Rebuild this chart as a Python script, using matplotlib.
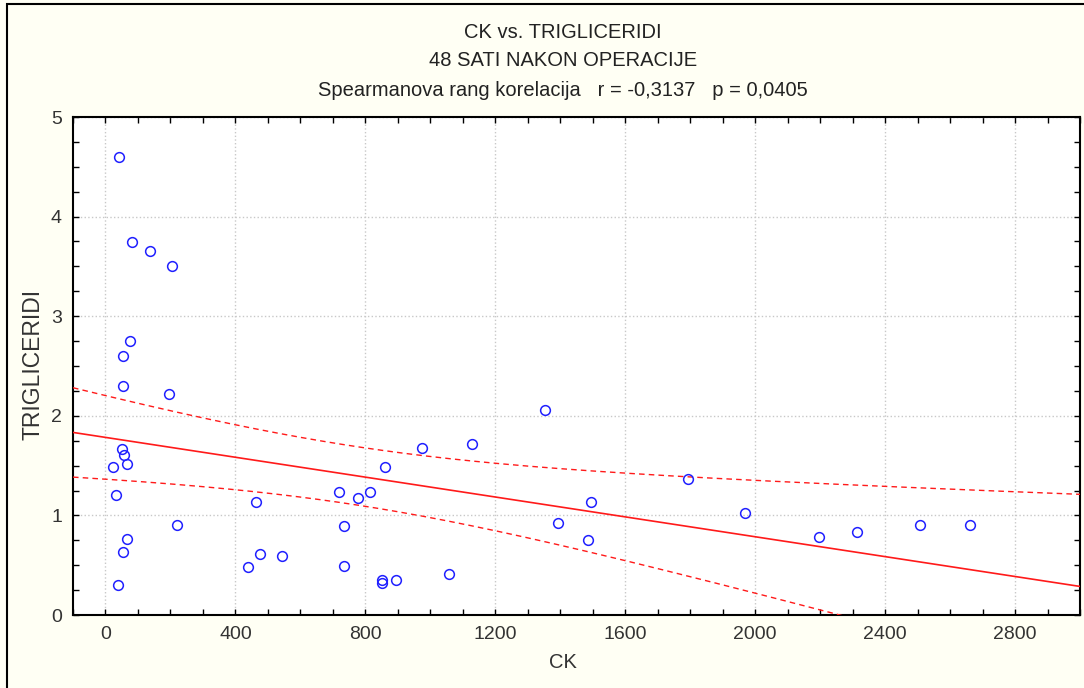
import numpy as np
import matplotlib.pyplot as plt
from matplotlib.patches import Rectangle
from matplotlib.ticker import MultipleLocator

# CK values (x) and triglycerides (y)
ck = [41, 81, 137, 205, 74, 55, 55, 197,
      51, 56, 67, 24, 33, 219, 67, 55, 37, 462, 439, 475, 542,
      1353, 1127, 974, 862, 719, 815, 778, 733, 733, 851, 851, 895, 1056,
      1495, 1394, 1484,
      1792, 1968, 2195, 2312, 2507, 2662]
trig = [4.60, 3.74, 3.65, 3.50, 2.75, 2.60, 2.30, 2.22,
        1.67, 1.61, 1.52, 1.49, 1.20, 0.90, 0.76, 0.63, 0.30, 1.13, 0.485, 0.615, 0.595,
        2.06, 1.72, 1.68, 1.49, 1.23, 1.23, 1.17, 0.89, 0.495, 0.35, 0.32, 0.35, 0.41,
        1.13, 0.92, 0.75,
        1.365, 1.02, 0.78, 0.83, 0.90, 0.90]

title_lines = ["CK vs. TRIGLICERIDI",
               "48 SATI NAKON OPERACIJE",
               "Spearmanova rang korelacija   r = -0,3137   p = 0,0405"]
x_label = "CK"
y_label = "TRIGLICERIDI"
x_ticks = [0, 400, 800, 1200, 1600, 2000, 2400, 2800]
y_ticks = [0, 1, 2, 3, 4, 5]

plt.rcParams['font.family'] = ['Liberation Sans', 'DejaVu Sans']

bg = '#fffff4'
fig = plt.figure(figsize=(10.84, 6.88), dpi=100, facecolor=bg)
ax = fig.add_axes([73 / 1084, 73 / 688, (1080 - 73) / 1084, (615 - 117) / 688])
ax.set_facecolor('white')

# outer frame of the graph window
fig.patches.append(Rectangle((7 / 1084, -0.1), 1.2, (684 + 0.1 * 688) / 688,
                             transform=fig.transFigure, fill=False,
                             edgecolor='black', linewidth=1.5))

x = np.array(ck, dtype=float)
y = np.array(trig, dtype=float)

# linear fit with 95% confidence band of the mean
n = len(x)
b, a = np.polyfit(x, y, 1)
resid = y - (a + b * x)
s = np.sqrt(np.sum(resid ** 2) / (n - 2))
sxx = np.sum((x - x.mean()) ** 2)
t_crit = 2.02
xs = np.linspace(-100, 3000, 300)
fit = a + b * xs
half = t_crit * s * np.sqrt(1 / n + (xs - x.mean()) ** 2 / sxx)

ax.plot(xs, fit, color='#ff1a1a', linewidth=1.2, zorder=3)
ax.plot(xs, fit + half, color='#ff1a1a', linewidth=1.0, linestyle=(0, (4, 3)), zorder=3)
ax.plot(xs, fit - half, color='#ff1a1a', linewidth=1.0, linestyle=(0, (4, 3)), zorder=3)

ax.plot(x, y, linestyle='none', marker='o', markersize=7, markerfacecolor='none',
        markeredgecolor='#2020ff', markeredgewidth=1.1, zorder=4)

ax.set_xlim(-100, 3000)
ax.set_ylim(0, 5)
ax.set_xticks(x_ticks)
ax.set_yticks(y_ticks)
ax.xaxis.set_minor_locator(MultipleLocator(100))
ax.yaxis.set_minor_locator(MultipleLocator(0.25))
ax.tick_params(which='both', direction='in', length=4, width=1, top=True, right=True,
               labelsize=14, colors='black', labelcolor='#333333', pad=8)
ax.grid(True, which='major', color='#c8c8c8', linestyle=':', linewidth=1)
ax.set_axisbelow(True)
for sp in ax.spines.values():
    sp.set_linewidth(1.5)

for i, yy in enumerate([33, 61, 90]):
    fig.text(563 / 1084, 1 - yy / 688, title_lines[i], ha='center', va='center',
             fontsize=14.5, color='#222222')
fig.text(563 / 1084, 1 - 663 / 688, x_label, ha='center', va='center', fontsize=14.5, color='#333333')
fig.text(33 / 1084, 1 - 364 / 688, y_label, ha='center', va='center', rotation=90,
         fontsize=16.5, color='#333333')

fig.savefig('out.png', dpi=100, facecolor=bg)
